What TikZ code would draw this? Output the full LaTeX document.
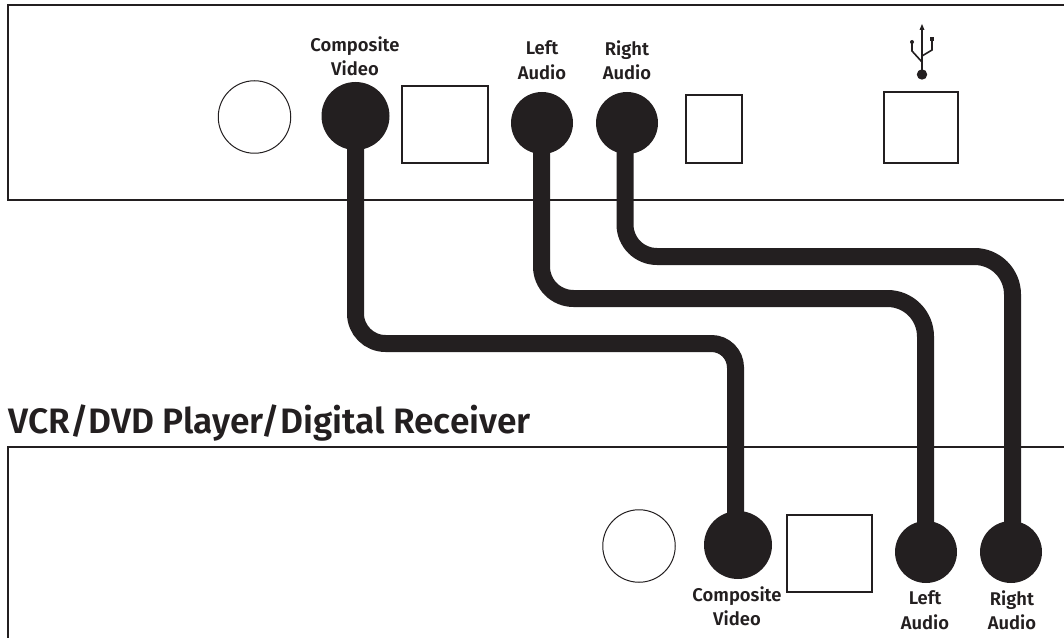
\documentclass[tikz,border=0pt]{standalone}
\usepackage{fontspec}
\setmainfont{Fira Sans SemiBold}
\definecolor{ink}{HTML}{231F20}
\newlength{\pxu}\setlength{\pxu}{0.75pt}
\tikzset{
 panel/.style={draw=ink,line width=1pt},
 port/.style={circle,draw=ink,fill=white,line width=0.75pt,inner sep=0pt,minimum size=72.5\pxu},
 video/.style={circle,fill=ink,inner sep=0pt,minimum size=68\pxu},
 audio/.style={circle,fill=ink,inner sep=0pt,minimum size=62\pxu},
 socket/.style={rectangle,draw=ink,fill=white,line width=0.8pt,inner sep=0pt},
 cable/.style={draw=ink,line width=17\pxu},
 lab/.style={align=center,text=ink,font=\fontsize{13.8}{18.3}\selectfont,inner sep=0pt},
}
\begin{document}
\begin{tikzpicture}[x=0.75pt,y=-0.75pt]
\useasboundingbox (0,0) rectangle (1064,638);
% panels
\draw[panel] (1064,5) -- (8,5) -- (8,200) -- (1064,200);
\draw[panel] (1064,447) -- (8,447) -- (8,638);
% helper levels
\coordinate (k1) at (545,343.5);
\coordinate (k2) at (730,298.5);
\coordinate (k3) at (820,256.5);
\coordinate (tlb) at (541.5,123);
\coordinate (trb) at (625,123);
\coordinate (blb) at (925.5,552);
\coordinate (brb) at (1012.5,552);
\coordinate (bvb) at (735.5,545);
% ports
\node[port] (tw) at (254.5,117) {};
\node[video] (tv) at (355.5,116) {};
\node[audio] (tl) at (542,123) {};
\node[audio] (tr) at (627,123) {};
\node[port] (bw) at (639,546) {};
\node[video] (bv) at (738,545) {};
\node[audio] (bl) at (926,552) {};
\node[audio] (br) at (1011,552) {};
% sockets
\node[socket,minimum width=86\pxu,minimum height=77\pxu] (s1) at (445,124.5) {};
\node[socket,minimum width=56\pxu,minimum height=68\pxu] (s2) at (714,129) {};
\node[socket,minimum width=74\pxu,minimum height=71\pxu] (s3) at (921,127.5) {};
\node[socket,minimum width=85\pxu,minimum height=77\pxu] (s4) at (829.5,553.5) {};
% cables
\draw[cable] (tv.center) [rounded corners=30\pxu] |- (k1) [rounded corners=24\pxu] -| (bvb);
\draw[cable] (tlb) [rounded corners=32\pxu] |- (k2) [rounded corners=38\pxu] -| (blb);
\draw[cable] (trb) [rounded corners=32\pxu] |- (k3) [rounded corners=38\pxu] -| (brb);
% labels
\node[lab] (l1) at (355,56) {Composite\\Video};
\node[lab] (l2) at (542,60) {Left\\Audio};
\node[lab] (l3) at (627,60) {Right\\Audio};
\node[lab] (l4) at (737,606) {Composite\\Video};
\node[lab] (l5) at (925,610) {Left\\Audio};
\node[lab] (l6) at (1012,610) {Right\\Audio};
\node[anchor=west,inner sep=0pt,text=ink,font=\fontsize{26.5}{30}\selectfont] (title) at (8,423) {VCR/DVD Player/Digital Receiver};
% USB symbol
\fill[ink] (922,74.5) circle (5.2);
\draw[ink,line width=1.4pt] (922,74) -- (922,29);
\fill[ink] (922,24) -- (924.5,30) -- (919.5,30) -- cycle;
\draw[ink,line width=1.2pt] (922,62) -- (912,51) -- (912,42);
\fill[ink] (912,42) circle (2);
\draw[ink,line width=1.2pt] (922,56) -- (932,50) -- (932,39);
\fill[ink] (930,37) rectangle (934,41);
\end{tikzpicture}
\end{document}
